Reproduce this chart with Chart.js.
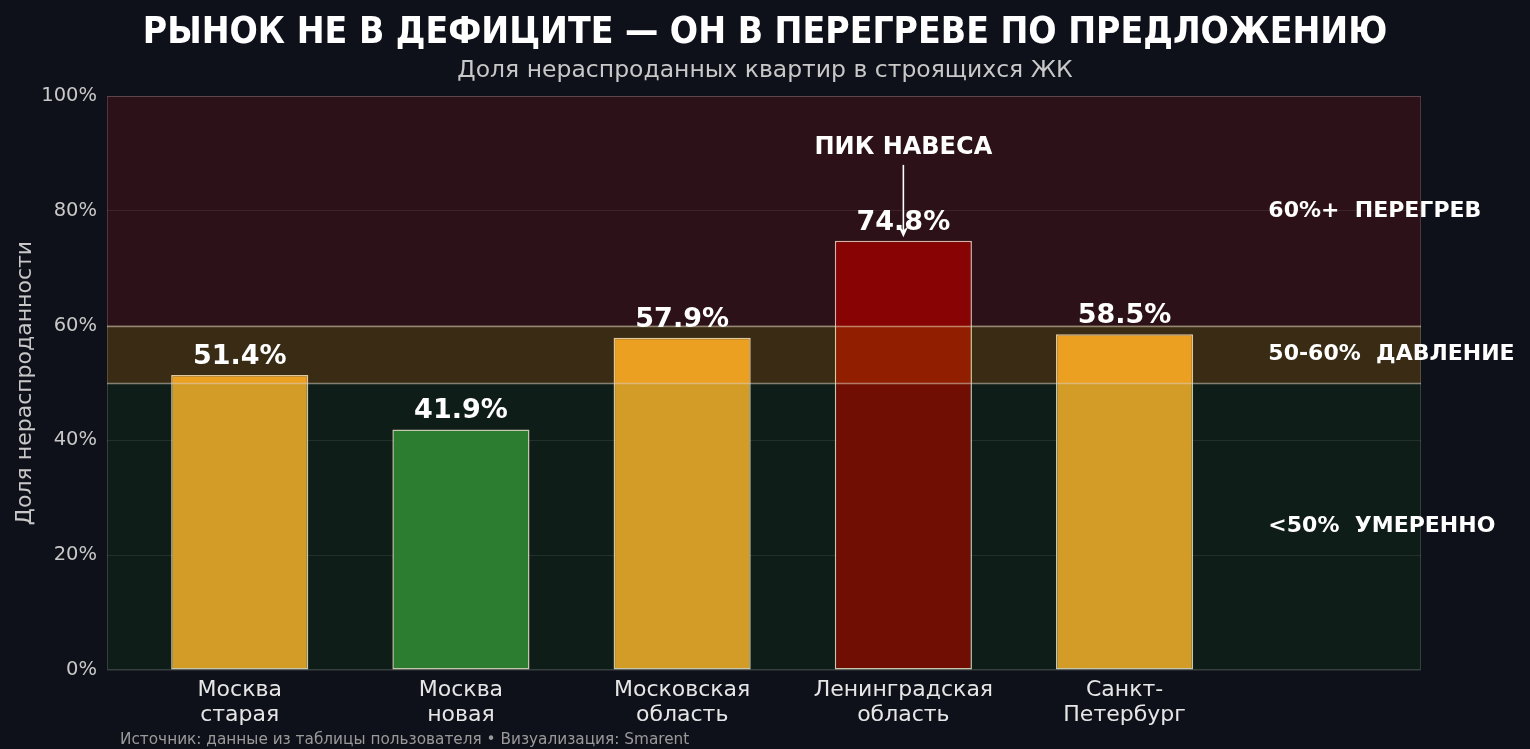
<!DOCTYPE html>
<html>
<head>
<meta charset="utf-8">
<script src="https://cdn.jsdelivr.net/npm/chart.js@4"></script>
<style>
  html, body { margin: 0; padding: 0; background: #0e1119; }
  #wrap { width: 1530px; height: 749px; }
</style>
</head>
<body>
<div id="wrap"><canvas id="myChart" width="1530" height="749"></canvas></div>
<script>
// данные
var categories = [['Москва', 'старая'], ['Москва', 'новая'], ['Московская', 'область'], ['Ленинградская', 'область'], ['Санкт-', 'Петербург']];
var shareUnsold = [51.4, 41.9, 57.9, 74.8, 58.5];
var yTicks = [0, 20, 40, 60, 80, 100];
var zoneBounds = [0, 50, 60, 100];
var zoneLabels = ['<50%  УМЕРЕННО', '50-60%  ДАВЛЕНИЕ', '60%+  ПЕРЕГРЕВ'];
var zoneLabelY = [25, 55, 80];
var peakIndex = 3;
var peakText = 'ПИК НАВЕСА';
var titleText = 'РЫНОК НЕ В ДЕФИЦИТЕ — ОН В ПЕРЕГРЕВЕ ПО ПРЕДЛОЖЕНИЮ';
var subtitleText = 'Доля нераспроданных квартир в строящихся ЖК';
var sourceText = 'Источник: данные из таблицы пользователя • Визуализация: Smarent';

// стили
var barColors = ['#e89f29', '#2f7c34', '#e89f29', '#7a0000', '#e89f29'];
var zoneFills = ['rgba(34,139,34,0.10)', 'rgba(255,165,0,0.18)', 'rgba(220,20,20,0.15)'];

Chart.defaults.font.family = 'DejaVu Sans';
Chart.defaults.color = '#c8c8c8';

var overlay = {
    id: 'overlay',
    afterDatasetsDraw: function(chart) {
        var ctx = chart.ctx, a = chart.chartArea, x = chart.scales.x, y = chart.scales.y;
        ctx.save();
        // зоны поверх столбцов
        for (var i = 0; i < zoneFills.length; i++) {
            var top = y.getPixelForValue(zoneBounds[i + 1]);
            var bot = y.getPixelForValue(zoneBounds[i]);
            ctx.fillStyle = zoneFills[i];
            ctx.fillRect(a.left, top, a.right - a.left, bot - top);
        }
        // границы зон
        ctx.strokeStyle = 'rgba(230,210,190,0.55)';
        ctx.lineWidth = 1.5;
        [zoneBounds[1], zoneBounds[2]].forEach(function(v) {
            var py = Math.round(y.getPixelForValue(v)) + 0.5;
            ctx.beginPath(); ctx.moveTo(a.left, py); ctx.lineTo(a.right, py); ctx.stroke();
        });
        // рамка
        ctx.strokeStyle = 'rgba(255,255,255,0.16)';
        ctx.lineWidth = 1;
        ctx.strokeRect(a.left + 0.5, a.top + 0.5, a.right - a.left - 1, a.bottom - a.top - 1);

        // подписи значений
        ctx.fillStyle = '#ffffff';
        ctx.textAlign = 'center';
        ctx.textBaseline = 'alphabetic';
        ctx.font = 'bold 27px "DejaVu Sans"';
        shareUnsold.forEach(function(v, i) {
            ctx.fillText(v.toFixed(1) + '%', x.getPixelForValue(i), y.getPixelForValue(v) - 11);
        });

        // подписи зон
        ctx.textAlign = 'left';
        ctx.textBaseline = 'middle';
        ctx.font = 'bold 22px "DejaVu Sans"';
        zoneLabels.forEach(function(t, i) {
            ctx.fillText(t, x.getPixelForValue(4.65), y.getPixelForValue(zoneLabelY[i]));
        });

        // аннотация пика
        var px = x.getPixelForValue(peakIndex);
        ctx.textAlign = 'center';
        ctx.font = 'bold 24px "DejaVu Sans"';
        ctx.fillText(peakText, px, y.getPixelForValue(91));
        var y0 = y.getPixelForValue(88), y1 = y.getPixelForValue(shareUnsold[peakIndex] + 0.6);
        ctx.strokeStyle = '#ffffff';
        ctx.fillStyle = '#ffffff';
        ctx.lineWidth = 1.6;
        ctx.beginPath(); ctx.moveTo(px, y0); ctx.lineTo(px, y1 - 6); ctx.stroke();
        ctx.beginPath(); ctx.moveTo(px - 5, y1 - 11); ctx.lineTo(px, y1); ctx.lineTo(px + 5, y1 - 11); ctx.lineTo(px, y1 - 7); ctx.closePath(); ctx.fill();
        ctx.restore();
    },
    afterDraw: function(chart) {
        var ctx = chart.ctx;
        ctx.save();
        // заголовок
        ctx.fillStyle = '#ffffff';
        ctx.textAlign = 'center';
        ctx.textBaseline = 'middle';
        ctx.font = 'bold 37px "DejaVu Sans"';
        ctx.translate(765, 33);
        ctx.scale(0.9, 1);
        ctx.fillText(titleText, 0, 0);
        ctx.setTransform(1, 0, 0, 1, 0, 0);
        // подзаголовок
        ctx.fillStyle = '#c8c8c8';
        ctx.font = '23.5px "DejaVu Sans"';
        ctx.fillText(subtitleText, 765, 71);
        // источник
        ctx.fillStyle = '#9a9a9a';
        ctx.font = '15.3px "DejaVu Sans"';
        ctx.textAlign = 'left';
        ctx.fillText(sourceText, 120, 740);
        ctx.restore();
    }
};

var ctx = document.getElementById('myChart').getContext('2d');
var myChart = new Chart(ctx, {
    type: 'bar',
    data: {
        datasets: [{
            data: shareUnsold.map(function(v, i) { return { x: i, y: v }; }),
            backgroundColor: barColors,
            borderColor: 'rgba(255,240,220,0.85)',
            borderWidth: 1.5,
            borderSkipped: false,
            barPercentage: 0.62,
            categoryPercentage: 1
        }]
    },
    options: {
        responsive: false,
        animation: false,
        layout: { padding: { left: 0, right: 109, top: 96, bottom: 13 } },
        plugins: {
            legend: { display: false },
            tooltip: { enabled: false }
        },
        scales: {
            x: {
                type: 'linear',
                offset: false,
                min: -0.6,
                max: 5.34,
                grid: { display: false, drawTicks: false },
                border: { display: false },
                afterBuildTicks: function(scale) {
                    scale.ticks = categories.map(function(c, i) { return { value: i }; });
                },
                ticks: {
                    autoSkip: false,
                    maxRotation: 0,
                    padding: 8,
                    color: '#e6e6e6',
                    font: { size: 22, lineHeight: '25px' },
                    callback: function(v) { return categories[v] || ''; }
                }
            },
            y: {
                min: 0,
                max: 100,
                afterBuildTicks: function(scale) {
                    scale.ticks = yTicks.map(function(v) { return { value: v }; });
                },
                afterFit: function(scale) { scale.width = 107; },
                grid: { color: 'rgba(255,255,255,0.09)', drawTicks: false },
                border: { display: false },
                ticks: {
                    padding: 10,
                    color: '#c8c8c8',
                    font: { size: 19.5 },
                    callback: function(v) { return v + '%'; }
                },
                title: {
                    display: true,
                    text: 'Доля нераспроданности',
                    color: '#c8c8c8',
                    font: { size: 22 },
                    padding: { top: 12, bottom: 0 }
                }
            }
        }
    },
    plugins: [overlay]
});
</script>
</body>
</html>
